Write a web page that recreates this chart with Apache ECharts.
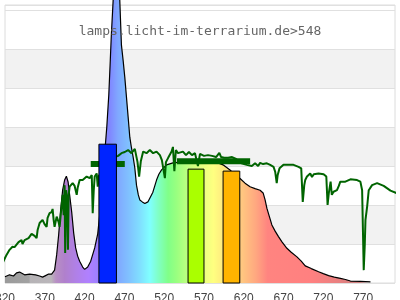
<!DOCTYPE html>
<html><head><meta charset="utf-8">
<script src="https://cdn.jsdelivr.net/npm/echarts@6/dist/echarts.min.js"></script>
<style>html,body{margin:0;padding:0;background:#fff}#c{width:400px;height:300px}</style>
</head><body><div id="c"></div>
<script>
// ---- data ----
const titleText = 'lamps.licht-im-terrarium.de>548';
const xMin = 320, xMax = 810, xStep = 50;
const yMin = 0, yMax = 71.3, yStep = 10;

// lamp spectrum (wavelength nm, relative value)
const lampWl = [320,325.7,330.7,334.5,338.3,344.6,350.9,358.4,363.5,367.2,371.0,374.8,378.6,382.3,384.9,387.4,389.9,392.4,394.9,397.1,399.3,401.2,403.8,406.3,408.8,411.3,413.8,417.6,420.1,423.9,427.7,432.7,436.5,440.3,444.1,447.9,450.4,452.3,453.6,455.9,460.1,464.2,466.3,468.6,470.5,474.7,476.8,478.7,481.0,483.1,485.2,487.5,489.4,492.5,495.7,499.5,502.0,505.8,510.4,513.3,516.7,523.0,531.0,539.8,552.4,565.0,581.4,587.6,593.9,602.7,609.0,615.3,621.6,627.9,634.2,640.5,644.3,646.8,649.0,651.9,655.3,659.4,663.6,668.2,674.2,679.6,686.8,692.2,697.2,704.8,714.0,719.9,726.6,733.8,741.4,747.7,754.0,766.6,779.2];
const lampVal = [1.6,2.1,1.8,2.6,2.8,2.1,2.3,2.1,1.8,1.5,1.9,2.3,2.3,3.3,7.2,12.3,18.7,23.8,26.4,27.4,25.9,22.6,18.2,12.8,9.0,6.9,5.6,4.1,3.5,4.1,5.6,9.0,12.6,20.0,30.3,40.0,48.2,57.2,63.6,72.6,87.9,72.6,61.0,56.7,52.8,42.6,37.4,34.9,32.3,29.5,25.1,22.6,21.3,20.8,20.4,20.8,21.3,23.3,26.4,27.9,29.0,30.3,30.8,31.0,31.0,31.2,31.1,30.8,30.3,29.0,27.7,26.8,25.6,24.7,24.2,23.8,23.1,21.3,19.2,17.2,14.9,13.3,11.9,10.5,8.9,7.9,6.7,5.6,4.4,3.7,2.9,2.4,1.9,1.5,1.2,0.9,0.5,0.4,0.3];

// reference (sun) spectrum
const sunWl = [313.1,316.9,321.9,325.7,329.4,332.0,334.5,337.0,338.3,340.8,342.0,344.6,347.1,349.6,350.9,353.4,354.6,357.2,359.7,361.0,363.5,366.0,367.2,369.7,372.3,373.5,376.0,378.6,379.8,381.1,382.3,384.9,387.4,388.6,391.2,392.4,393.7,394.9,395.6,396.8,398.1,399.1,400.0,401.2,405.0,407.5,410.1,411.3,413.8,417.6,420.1,422.6,426.4,429.0,430.2,431.5,432.7,435.2,436.5,437.8,445.3,451.6,457.9,462.1,466.3,470.5,474.7,478.9,483.1,485.2,486.5,488.5,490.7,493.6,497.8,502.0,506.1,510.4,514.6,517.1,520.9,522.2,525.0,529.3,531.0,532.8,534.7,537.3,539.8,543.6,547.4,551.1,554.9,558.7,562.4,565.0,570.0,575.1,580.1,585.2,589.3,591.5,595.3,600.3,605.3,610.4,615.3,620.4,623.8,630.1,634.2,638.0,640.5,644.3,649.0,653.2,657.4,659.5,661.4,662.6,664.9,669.9,676.2,682.5,688.8,692.2,694.1,696.0,697.2,699.4,703.5,705.7,707.9,709.8,714.0,720.3,723.7,725.3,726.8,729.1,730.6,732.8,737.1,739.4,741.3,747.6,754.0,762.3,766.5,768.7,769.7,770.7,772.0,772.9,775.0,777.0,781.2,787.5,795.8,804.3,812.7,816.9];
const sunVal = [3.3,5.1,7.2,8.5,9.3,9.2,9.7,10.5,10.6,11.0,10.0,11.0,11.5,11.5,11.9,12.6,12.7,12.1,11.5,13.6,15.4,15.6,16.2,15.1,14.4,16.7,17.9,18.2,19.0,16.2,14.4,17.0,15.6,14.4,20.0,22.6,17.4,25.1,7.7,23.8,21.3,8.5,22.6,24.7,25.6,24.9,22.6,24.4,26.4,26.4,25.9,27.3,26.9,27.7,17.9,23.8,27.3,28.1,24.7,27.4,29.5,31.5,32.3,32.6,33.3,33.6,34.1,33.3,34.4,34.9,31.0,27.3,31.3,33.7,33.3,34.1,33.3,33.7,32.8,31.5,26.9,31.0,32.1,33.7,34.9,28.7,34.1,33.3,33.3,33.7,32.8,33.6,32.8,33.3,30.0,33.1,32.6,32.8,32.6,32.3,33.4,32.3,32.1,32.1,32.3,31.8,30.8,30.5,30.3,30.0,30.7,30.0,30.8,30.5,30.7,30.3,29.8,28.5,25.6,27.7,29.4,30.3,30.3,30.3,29.8,29.4,20.8,25.1,26.4,27.3,28.1,27.2,27.9,28.1,28.1,27.9,27.3,20.0,23.0,26.0,22.6,23.4,23.8,24.9,26.0,26.0,26.6,26.4,26.0,23.8,13.6,3.3,9.7,16.2,19.6,23.8,25.1,25.6,24.9,23.7,23.0,23.1];

// bars (from nm, to nm, value)
const barFrom = [438, 550, 594];
const barTo = [460, 570, 615];
const barVal = [35.6, 29.2, 28.7];

// averaged reference levels (from nm, to nm, value)
const levelFrom = [427.7, 536];
const levelTo = [470.5, 628];
const levelVal = [30.5, 31.2];

// shaded bands on the value axis
const shadeFrom = [10, 30, 50];
const shadeTo = [20, 40, 60];

// ---- styles ----
const barColors = ['#0024ff', '#aaff00', '#ffb400'];
const rainbow = [
  [320,'#9a9a9a'],[350,'#a2a2a2'],[352,'#b6b3b6'],[378,'#bab6ba'],[384,'#b890c4'],[395,'#b080cc'],
  [410,'#b080e8'],[425,'#b080ff'],[440,'#9880ff'],[452,'#8088ff'],[462,'#80a8ff'],[475,'#80c0ff'],
  [490,'#80e0ff'],[502,'#80ffff'],[512,'#80ffc8'],[525,'#80ff88'],[535,'#98ff80'],[550,'#c0ff80'],
  [568,'#e8ff80'],[582,'#ffff80'],[595,'#ffe880'],[615,'#ffcc80'],[635,'#ffa880'],[650,'#ff8480'],
  [705,'#ff8080'],[740,'#e88080'],[760,'#d08080'],[779.2,'#c88080']
];
const w0 = lampWl[0], w1 = lampWl[lampWl.length - 1];
const grad = new echarts.graphic.LinearGradient(0, 0, 1, 0,
  rainbow.map(s => ({offset: Math.min(1, Math.max(0, (s[0] - w0) / (w1 - w0))), color: s[1]})));

const chart = echarts.init(document.getElementById('c'), null, {renderer: 'canvas'});
chart.setOption({
  animation: false,
  backgroundColor: '#fff',
  title: {
    text: titleText, left: 'center', top: 25, padding: 0,
    textStyle: {fontFamily: 'DejaVu Sans Mono', fontSize: 13, fontWeight: 'normal', color: '#666'}
  },
  grid: {left: 5, right: 5, top: 5, bottom: 17, show: true, borderColor: '#dcdcdc', borderWidth: 1, z: 1,
    containLabel: false, outerBoundsMode: 'none'},
  xAxis: {
    type: 'value', min: xMin, max: xMax, interval: xStep, z: 1,
    axisLine: {show: false}, axisTick: {show: false}, splitLine: {show: false},
    axisLabel: {
      color: '#444', fontFamily: 'Liberation Sans', fontSize: 12, margin: 10,
      hideOverlap: false, showMinLabel: true, showMaxLabel: false,
      formatter: v => (v % xStep === xMin % xStep) ? String(v) : ''
    }
  },
  yAxis: {
    type: 'value', min: yMin, max: yMax, interval: yStep, z: 1,
    axisLine: {show: false}, axisTick: {show: false}, axisLabel: {show: false},
    splitLine: {lineStyle: {color: '#e0e0e0', width: 1}}
  },
  series: [
    {
      type: 'line', z: 2, clip: false, symbol: 'none', silent: true,
      data: lampWl.map((w, i) => [w, lampVal[i]]),
      lineStyle: {color: '#000', width: 1.2},
      areaStyle: {color: grad, opacity: 1},
      markArea: {
        silent: true, z: 0,
        itemStyle: {color: '#f2f2f2'},
        data: shadeFrom.map((f, i) => [{yAxis: f}, {yAxis: shadeTo[i]}])
      }
    },
    {
      type: 'line', z: 3, clip: false, symbol: 'none', silent: true,
      data: sunWl.map((w, i) => [w, sunVal[i]]),
      lineStyle: {color: '#006400', width: 2}
    },
    {
      type: 'custom', z: 4, silent: true,
      data: levelFrom.map((f, i) => [f, levelTo[i], levelVal[i]]),
      encode: {x: [0, 1], y: 2},
      renderItem: (params, api) => {
        const a = api.coord([api.value(0), api.value(2)]);
        const b = api.coord([api.value(1), api.value(2)]);
        return {type: 'line', shape: {x1: a[0], y1: a[1], x2: b[0], y2: b[1]},
          style: {stroke: '#006400', lineWidth: 6}};
      }
    },
    {
      type: 'custom', z: 5, silent: true,
      data: barFrom.map((f, i) => [f, barTo[i], barVal[i], i]),
      encode: {x: [0, 1], y: 2},
      renderItem: (params, api) => {
        const a = api.coord([api.value(0), api.value(2)]);
        const b = api.coord([api.value(1), 0]);
        return {type: 'rect', shape: {x: a[0], y: a[1], width: b[0] - a[0], height: b[1] - a[1]},
          style: {fill: barColors[api.value(3)], stroke: '#000', lineWidth: 1}};
      }
    }
  ]
});
</script>
</body></html>
